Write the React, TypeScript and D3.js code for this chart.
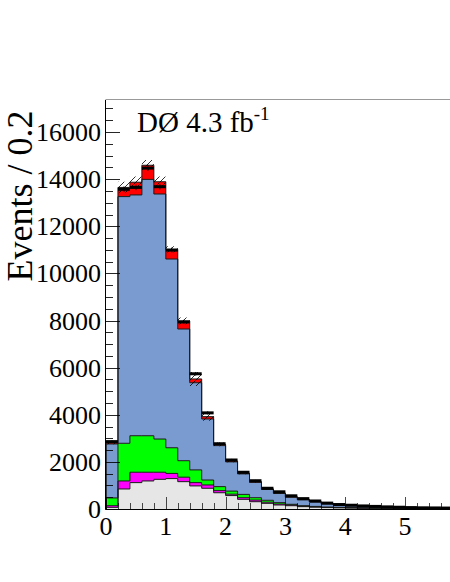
import React, { useEffect, useRef } from "react";
import * as d3 from "d3";

// bins of width 0.2 starting at 0
const binWidth = 0.2;
const nBins = 30;

// stacked backgrounds (events per bin), bottom to top
const grayBkg = [70, 850, 1120, 1190, 1260, 1290, 1160, 980, 880, 690, 570, 410, 310, 240, 170, 140, 100, 80, 60, 50, 40, 30, 30, 25, 20, 15, 12, 10, 8, 6];
const magentaBkg = [70, 340, 440, 370, 300, 220, 190, 140, 140, 90, 60, 70, 70, 50, 40, 30, 20, 10, 10, 10, 10, 10, 5, 5, 5, 5, 3, 2, 2, 2];
const greenBkg = [330, 1600, 1550, 1550, 1410, 1090, 700, 540, 210, 170, 130, 140, 100, 80, 60, 30, 20, 20, 10, 10, 10, 10, 5, 5, 5, 5, 5, 3, 2, 2];
const blueBkg = [2290, 10470, 10220, 10880, 10400, 8010, 5590, 3700, 2590, 1740, 1240, 870, 650, 460, 390, 300, 250, 190, 140, 100, 80, 60, 60, 45, 35, 30, 25, 23, 20, 17];
const redBkg = [50, 390, 540, 600, 520, 410, 340, 160, 100, 50, 40, 30, 30, 20, 20, 20, 20, 10, 10, 10, 10, 10, 5, 5, 5, 3, 3, 2, 2, 1];
// MC uncertainty (hatched band around total)
const mcUnc = [60, 240, 240, 220, 220, 130, 150, 300, 170, 80, 60, 40, 30, 25, 20, 15, 12, 10, 8, 6, 5, 4, 4, 3, 3, 2, 2, 2, 2, 1];
// data
const dataCounts = [2860, 13570, 13650, 14470, 13680, 10990, 7940, 5740, 4080, 2770, 2080, 1560, 1200, 880, 730, 560, 440, 340, 250, 190, 160, 130, 110, 90, 75, 60, 50, 45, 40, 35];

const yTicks = [0, 2000, 4000, 6000, 8000, 10000, 12000, 14000, 16000];
const xTicks = [0, 1, 2, 3, 4, 5];

const layers = [
  { values: grayBkg, color: "#e6e6e6" },
  { values: magentaBkg, color: "#ff00ff" },
  { values: greenBkg, color: "#00ff00" },
  { values: blueBkg, color: "#7a9bd0" },
  { values: redBkg, color: "#ff0000" },
];

const FONT = "'Liberation Serif', 'Times New Roman', 'DejaVu Serif', serif";

export default function App() {
  const ref = useRef<SVGSVGElement>(null);

  useEffect(() => {
    const width = 450;
    const height = 582;
    const svg = d3.select(ref.current);
    svg.selectAll("*").remove();

    const x = d3.scaleLinear().domain([0, 6]).range([106, 106 + 6 * 59.8]);
    const y = d3.scaleLinear().domain([0, 17360]).range([509, 100]);

    const defs = svg.append("defs");
    const pat = defs
      .append("pattern")
      .attr("id", "hatch")
      .attr("patternUnits", "userSpaceOnUse")
      .attr("width", 6)
      .attr("height", 6);
    pat
      .append("path")
      .attr("d", "M-1,1 l2,-2 M0,6 l6,-6 M5,7 l2,-2")
      .attr("stroke", "#000")
      .attr("stroke-width", 0.8);

    defs
      .append("clipPath")
      .attr("id", "plotclip")
      .append("rect")
      .attr("x", 106)
      .attr("y", 100)
      .attr("width", width - 106)
      .attr("height", 409);

    const edges = d3.range(nBins + 1).map((i) => i * binWidth);

    // cumulative stack
    const cum: number[][] = [];
    let prev = new Array(nBins).fill(0);
    layers.forEach((l) => {
      const next = prev.map((p, i) => p + l.values[i]);
      cum.push(next);
      prev = next;
    });
    const total = prev;

    const g = svg.append("g").attr("clip-path", "url(#plotclip)");

    const stepArea = (lo: number[], hi: number[]) =>
      d3
        .area<number>()
        .curve(d3.curveStepAfter)
        .x((e) => x(e))
        .y0((e, i) => y(lo[Math.min(i, nBins - 1)]))
        .y1((e, i) => y(hi[Math.min(i, nBins - 1)]))(edges);

    const stepLine = (hi: number[]) =>
      d3
        .line<number>()
        .curve(d3.curveStepAfter)
        .x((e) => x(e))
        .y((e, i) => y(hi[Math.min(i, nBins - 1)]))(edges);

    const zero = new Array(nBins).fill(0);
    layers.forEach((l, k) => {
      const lo = k === 0 ? zero : cum[k - 1];
      g.append("path")
        .attr("d", stepArea(lo, cum[k]))
        .attr("fill", l.color)
        .attr("stroke", "none");
    });
    layers.forEach((l, k) => {
      g.append("path")
        .attr("d", "M" + x(0) + "," + y(0) + "L" + stepLine(cum[k])!.slice(1) + "L" + x(6) + "," + y(0))
        .attr("fill", "none")
        .attr("stroke", "#1a1a1a")
        .attr("stroke-width", 1);
    });

    // hatched uncertainty band
    const lowBand = total.map((t, i) => t - mcUnc[i]);
    const highBand = total.map((t, i) => t + mcUnc[i]);
    g.append("path")
      .attr("d", stepArea(lowBand, highBand))
      .attr("fill", "url(#hatch)")
      .attr("stroke", "none");

    // data markers
    const bw = x(binWidth) - x(0);
    g.selectAll("rect.data")
      .data(dataCounts)
      .enter()
      .append("rect")
      .attr("class", "data")
      .attr("x", (d, i) => x(edges[i]))
      .attr("y", (d) => y(d) - 1.5)
      .attr("width", bw)
      .attr("height", 3)
      .attr("fill", "#000");
    g.selectAll("line.err")
      .data(dataCounts)
      .enter()
      .append("line")
      .attr("class", "err")
      .attr("x1", (d, i) => x(edges[i]) + bw / 2)
      .attr("x2", (d, i) => x(edges[i]) + bw / 2)
      .attr("y1", (d) => y(d + Math.sqrt(d)))
      .attr("y2", (d) => y(d - Math.sqrt(d)))
      .attr("stroke", "#000")
      .attr("stroke-width", 1);

    // frame
    svg
      .append("line")
      .attr("x1", 105.5)
      .attr("x2", width)
      .attr("y1", 99.5)
      .attr("y2", 99.5)
      .attr("stroke", "#999")
      .attr("stroke-width", 1);

    // left axis
    const ax = svg.append("g");
    ax.append("line")
      .attr("x1", 105.5)
      .attr("x2", 105.5)
      .attr("y1", 100)
      .attr("y2", 509.5)
      .attr("stroke", "#000");
    const yMinor = d3.range(0, 17360, 500);
    ax.selectAll("line.ymin")
      .data(yMinor)
      .enter()
      .append("line")
      .attr("x1", 105.5)
      .attr("x2", (d) => (d % 2000 === 0 ? 120 : 113))
      .attr("y1", (d) => Math.round(y(d)) + 0.5)
      .attr("y2", (d) => Math.round(y(d)) + 0.5)
      .attr("stroke", "#000")
      .attr("stroke-opacity", 0.85)
      .attr("stroke-width", 1);
    ax.selectAll("text.yl")
      .data(yTicks)
      .enter()
      .append("text")
      .attr("x", 101)
      .attr("y", (d) => y(d) + 9)
      .attr("text-anchor", "end")
      .attr("font-family", FONT)
      .attr("font-size", 26)
      .attr("fill", "#000")
      .text((d) => String(d));

    // bottom axis
    ax.append("line")
      .attr("x1", 105.5)
      .attr("x2", width)
      .attr("y1", 509.5)
      .attr("y2", 509.5)
      .attr("stroke", "#000");
    const xMinor = d3.range(0, 30).map((i) => i * 0.2);
    ax.selectAll("line.xmin")
      .data(xMinor)
      .enter()
      .append("line")
      .attr("x1", (d) => Math.round(x(d)) + 0.5)
      .attr("x2", (d) => Math.round(x(d)) + 0.5)
      .attr("y1", 509.5)
      .attr("y2", (d, i) => (i % 5 === 0 ? 497 : 503))
      .attr("stroke", "#000")
      .attr("stroke-opacity", 0.7)
      .attr("stroke-width", 1);
    ax.selectAll("text.xl")
      .data(xTicks)
      .enter()
      .append("text")
      .attr("x", (d) => x(d))
      .attr("y", 535)
      .attr("text-anchor", "middle")
      .attr("font-family", FONT)
      .attr("font-size", 26)
      .attr("fill", "#000")
      .text((d) => String(d));

    // y title
    svg
      .append("text")
      .attr("transform", "translate(32,196) rotate(-90)")
      .attr("text-anchor", "middle")
      .attr("font-family", FONT)
      .attr("font-size", 36)
      .attr("fill", "#000")
      .text("Events / 0.2");

    // label
    const lab = svg
      .append("text")
      .attr("x", 137)
      .attr("y", 132)
      .attr("font-family", FONT)
      .attr("font-size", 29)
      .attr("fill", "#000");
    lab.append("tspan").text("DØ 4.3 fb");
    lab.append("tspan").attr("dy", -12).attr("font-size", 19).text("-1");

    svg.attr("width", width).attr("height", height);
  }, []);

  return (
    <svg
      ref={ref}
      width={450}
      height={582}
      style={{ position: "absolute", left: 0, top: 0, background: "#fff" }}
    />
  );
}
